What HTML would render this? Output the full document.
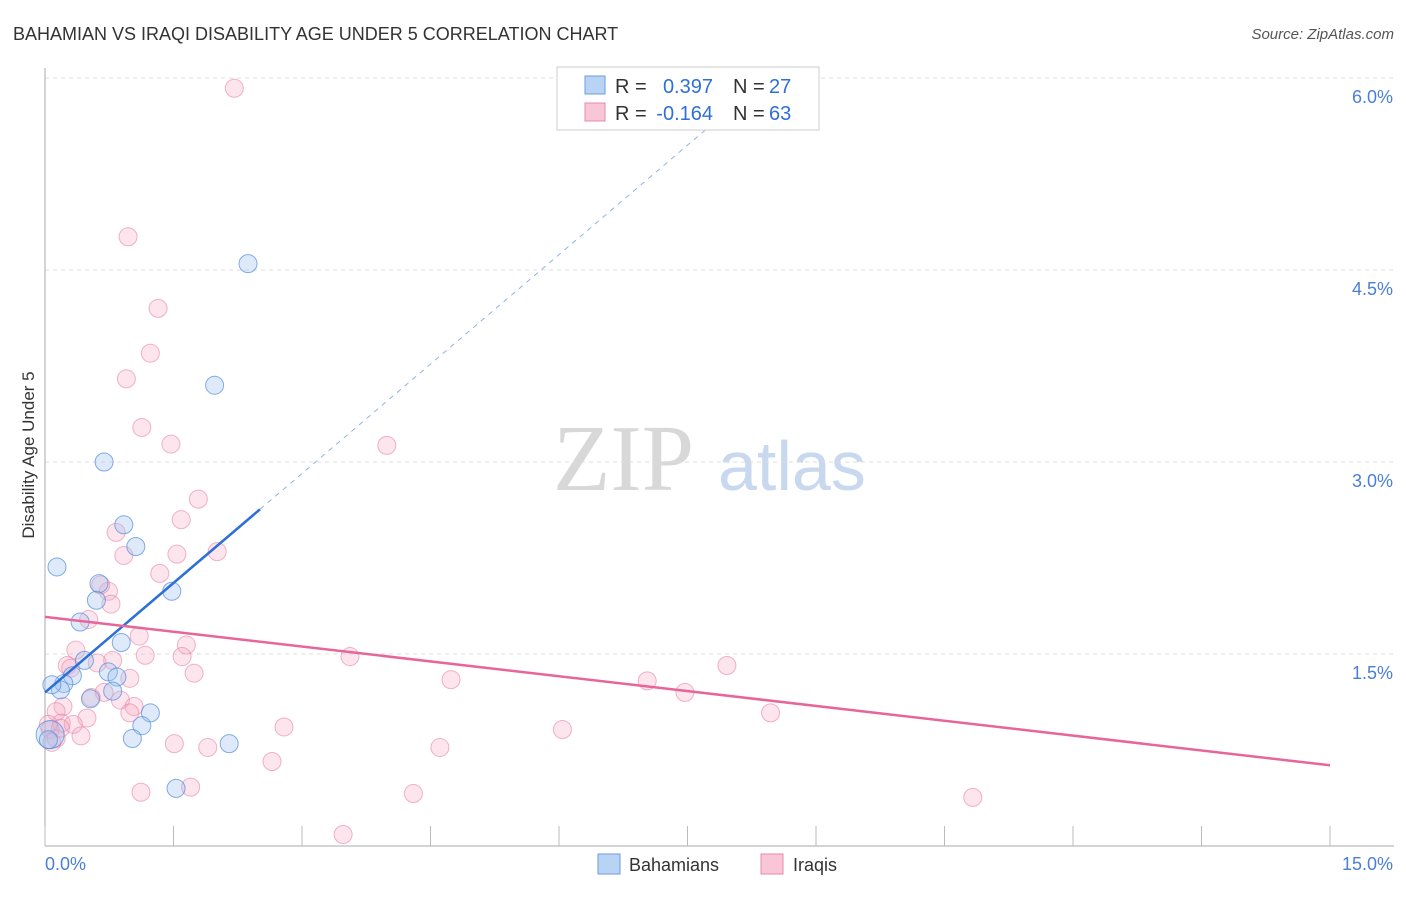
<!DOCTYPE html>
<html><head><meta charset="utf-8"><style>
body{margin:0;background:#fff;font-family:"Liberation Sans",sans-serif;}
</style></head><body>
<svg id="chart" width="1406" height="892" xmlns="http://www.w3.org/2000/svg" style="font-family:'Liberation Sans',sans-serif">
<text x="13" y="40" font-size="18" fill="#333">BAHAMIAN VS IRAQI DISABILITY AGE UNDER 5 CORRELATION CHART</text>
<text x="1394" y="39" font-size="15" fill="#555" font-style="italic" text-anchor="end">Source: ZipAtlas.com</text>
<text transform="translate(34,455) rotate(-90)" font-size="17" fill="#333" text-anchor="middle">Disability Age Under 5</text>
<g id="watermark">
<text x="553" y="490" font-size="94" fill="#d8d8d8" style="font-family:'Liberation Serif',serif">ZIP</text>
<text x="718" y="490" font-size="70" fill="#c8d8ee">atlas</text>
</g>
<g id="grid"></g><g id="axes"></g><g id="pts"></g><g id="lines"></g>
<g>
<rect x="557" y="67" width="262" height="63" fill="#fff" stroke="#ccc"/>
<rect x="585" y="76" width="20" height="18" fill="#b9d3f5" stroke="#6a9be0"/>
<rect x="585" y="103" width="20" height="18" fill="#f8c6d6" stroke="#e88aa8"/>
<text x="615" y="93" font-size="20" fill="#333">R =</text>
<text x="713" y="93" font-size="20" fill="#2f6fd6" text-anchor="end">0.397</text>
<text x="733" y="93" font-size="20" fill="#333">N =</text>
<text x="769" y="93" font-size="20" fill="#2f6fd6">27</text>
<text x="615" y="120" font-size="20" fill="#333">R =</text>
<text x="713" y="120" font-size="20" fill="#2f6fd6" text-anchor="end">-0.164</text>
<text x="733" y="120" font-size="20" fill="#333">N =</text>
<text x="769" y="120" font-size="20" fill="#2f6fd6">63</text>
</g>
<g>
<rect x="598" y="854" width="22" height="20" fill="#b9d3f5" stroke="#6a9be0"/>
<text x="629" y="871" font-size="18" fill="#333">Bahamians</text>
<rect x="761" y="854" width="22" height="20" fill="#f8c6d6" stroke="#e88aa8"/>
<text x="793" y="871" font-size="18" fill="#333">Iraqis</text>
</g>
</svg>
<script>
const yTicks=[1.5,3.0,4.5,6.0];
const yTickLabels=["1.5%","3.0%","4.5%","6.0%"];
const xTicks=[0,1.5,3,4.5,6,7.5,9,10.5,12,13.5,15];
const xEndLabels=["0.0%","15.0%"];
const bahX=[2.37,1.98,0.69,0.92,1.06,0.14,0.63,1.48,0.60,0.41,0.89,0.46,0.32,0.74,0.84,0.22,0.79,0.53,1.23,1.13,1.02,2.15,1.53,0.06,0.04,0.18,0.08];
const bahY=[4.55,3.60,3.00,2.51,2.34,2.18,2.05,1.99,1.92,1.75,1.59,1.45,1.33,1.36,1.32,1.27,1.21,1.15,1.04,0.94,0.84,0.80,0.45,0.87,0.83,1.22,1.26];
const iraX=[2.21,0.97,1.32,1.23,0.95,1.13,1.47,3.99,1.79,1.59,0.83,1.54,2.01,0.92,1.34,0.74,0.65,0.77,0.51,1.10,1.65,1.17,1.60,3.56,0.36,0.61,0.26,0.79,0.30,1.74,7.96,4.74,7.03,7.47,0.99,0.69,0.54,0.88,1.04,0.99,8.47,0.21,0.13,0.49,0.19,2.79,6.04,0.33,0.06,0.42,0.13,0.08,1.51,1.90,4.61,2.65,1.12,1.70,4.30,10.83,3.48,0.18,0.04];
const iraY=[5.92,4.76,4.20,3.85,3.65,3.27,3.14,3.13,2.71,2.55,2.45,2.28,2.30,2.27,2.13,1.99,2.04,1.89,1.77,1.64,1.57,1.49,1.48,1.48,1.53,1.43,1.41,1.45,1.39,1.35,1.41,1.30,1.29,1.20,1.31,1.20,1.16,1.14,1.09,1.04,1.04,1.09,1.05,1.00,0.96,0.93,0.91,0.95,0.91,0.86,0.84,0.81,0.80,0.77,0.77,0.66,0.42,0.46,0.41,0.38,0.09,0.92,0.95];
const bahFit=[1.20,0.57];const bahSolidEnd=2.51;const bahDashEnd=8.0;
const iraFit=[1.79,-0.0773];const iraEnd=15;
const NS="http://www.w3.org/2000/svg";
const X=v=>45+v/15*1285, Y=v=>846-v*128;
function mk(t,a,p){const e=document.createElementNS(NS,t);for(const k in a)e.setAttribute(k,a[k]);p.appendChild(e);return e;}
const grid=document.getElementById('grid'),axes=document.getElementById('axes'),pts=document.getElementById('pts'),lines=document.getElementById('lines');
yTicks.forEach((t,i)=>{
const g=mk('line',{x1:45,x2:1394,y1:Y(t),y2:Y(t),stroke:'#ddd','stroke-dasharray':'4,4'},grid);


const l=mk('text',{x:1393,y:Y(t)+25,'font-size':18,fill:'#4a7fd6','text-anchor':'end'},axes);l.textContent=yTickLabels[i];


});
const xa=mk('line',{x1:45,x2:1394,y1:846,y2:846,stroke:'#aaa'},axes);


const ya=mk('line',{x1:45,x2:45,y1:68,y2:846,stroke:'#aaa'},axes);


xTicks.forEach(t=>{const e=mk('line',{x1:X(t),x2:X(t),y1:826,y2:846,stroke:'#bbb'},axes);

});
const l0=mk('text',{x:45,y:870,'font-size':18,fill:'#4a7fd6'},axes);l0.textContent=xEndLabels[0];


const l1=mk('text',{x:1393,y:870,'font-size':18,fill:'#4a7fd6','text-anchor':'end'},axes);l1.textContent=xEndLabels[1];


iraX.forEach((x,i)=>{const c=mk('circle',{cx:X(x),cy:Y(iraY[i]),r:9,fill:'rgba(245,170,195,0.3)',stroke:'rgba(232,130,165,0.6)','stroke-width':1},pts);

});
bahX.forEach((x,i)=>{const c=mk('circle',{cx:X(x),cy:Y(bahY[i]),r:(i==23?14:9),fill:'rgba(160,195,240,0.35)',stroke:'rgba(80,140,220,0.7)','stroke-width':1},pts);

});
const f=(fit,x)=>fit[0]+fit[1]*x;
const bs=mk('line',{x1:X(0),y1:Y(f(bahFit,0)),x2:X(bahSolidEnd),y2:Y(f(bahFit,bahSolidEnd)),stroke:'#2c6fd6','stroke-width':2.5},lines);


const bd=mk('line',{x1:X(bahSolidEnd),y1:Y(f(bahFit,bahSolidEnd)),x2:X(bahDashEnd),y2:Y(f(bahFit,bahDashEnd)),stroke:'#8fb3e8','stroke-width':1,'stroke-dasharray':'5,5'},lines);


const il=mk('line',{x1:X(0),y1:Y(f(iraFit,0)),x2:X(iraEnd),y2:Y(f(iraFit,iraEnd)),stroke:'#e8659a','stroke-width':2.5},lines);


</script>
</body></html>
